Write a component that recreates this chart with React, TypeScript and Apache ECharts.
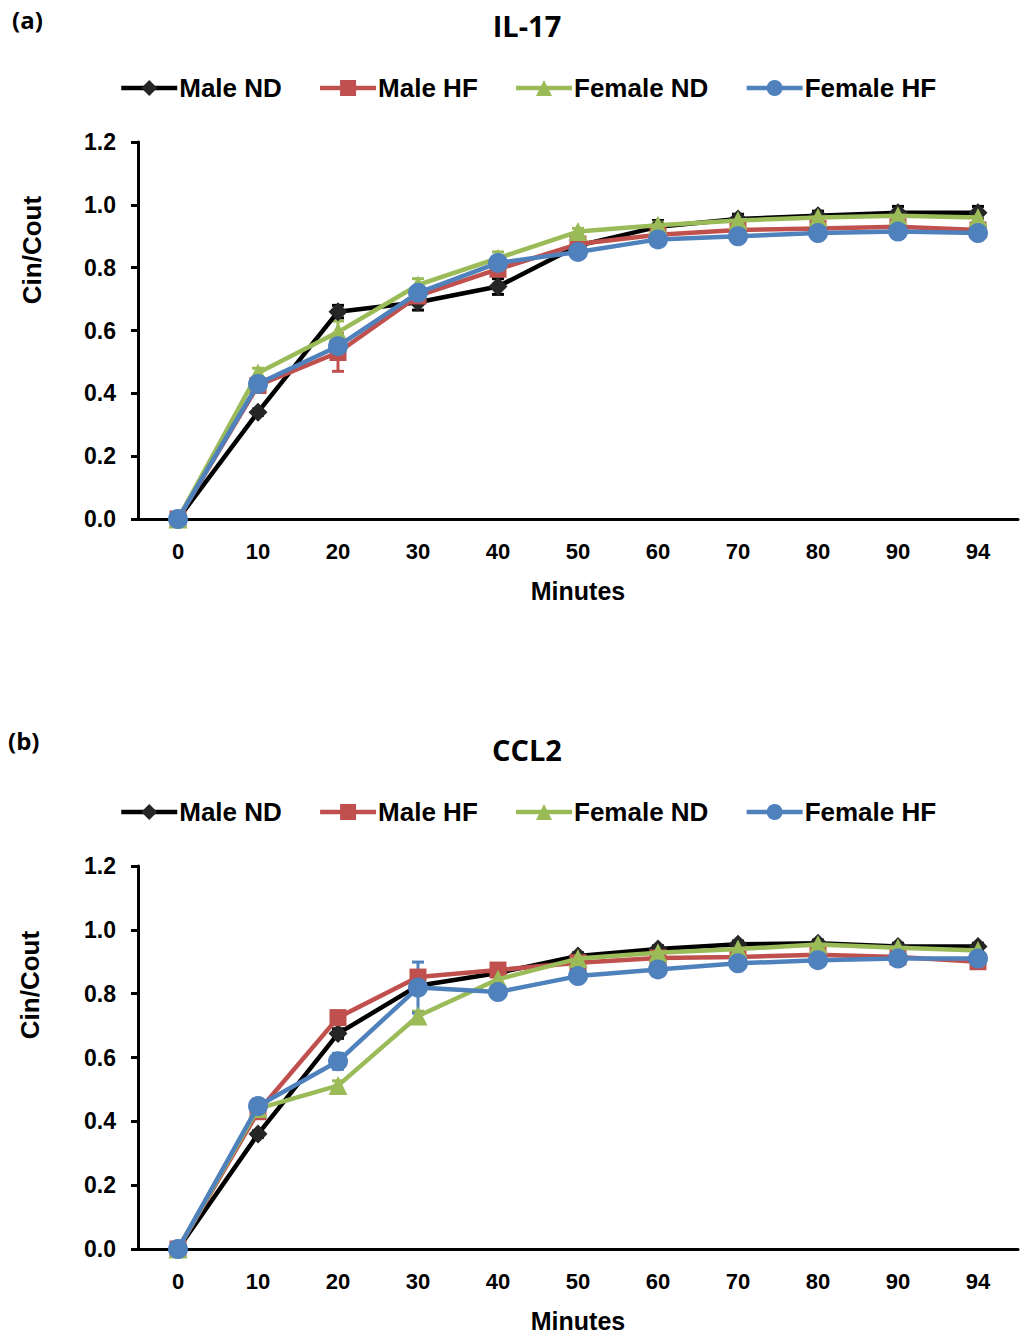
import React, { useEffect, useRef } from "react";
import * as echarts from "echarts";

const categories = ["0", "10", "20", "30", "40", "50", "60", "70", "80", "90", "94"];
const seriesNames = ["Male ND", "Male HF", "Female ND", "Female HF"];
const yTicks = [0, 0.2, 0.4, 0.6, 0.8, 1.0, 1.2];

// IL-17 (a)
const il17MaleND = [0, 0.34, 0.66, 0.69, 0.74, 0.87, 0.93, 0.955, 0.965, 0.975, 0.975];
const il17MaleHF = [0, 0.425, 0.53, 0.71, 0.795, 0.875, 0.905, 0.92, 0.925, 0.93, 0.92];
const il17FemaleND = [0, 0.465, 0.595, 0.745, 0.83, 0.915, 0.935, 0.95, 0.96, 0.965, 0.96];
const il17FemaleHF = [0, 0.43, 0.55, 0.72, 0.815, 0.85, 0.89, 0.9, 0.91, 0.915, 0.91];
const il17MaleNDErr = [0, 0.01, 0.02, 0.025, 0.025, 0.01, 0.02, 0.015, 0.015, 0.02, 0.02];
const il17MaleHFErr = [0, 0.01, 0.06, 0.015, 0.02, 0.01, 0.01, 0.01, 0.01, 0.01, 0.01];
const il17FemaleNDErr = [0, 0.015, 0.035, 0.02, 0.02, 0.01, 0.01, 0.01, 0.01, 0.01, 0.01];
const il17FemaleHFErr = [0, 0.01, 0.015, 0.01, 0.01, 0.01, 0.01, 0.01, 0.01, 0.01, 0.01];

// CCL2 (b)
const ccl2MaleND = [0, 0.36, 0.675, 0.825, 0.865, 0.918, 0.94, 0.955, 0.958, 0.948, 0.948];
const ccl2MaleHF = [0, 0.43, 0.725, 0.852, 0.874, 0.897, 0.912, 0.915, 0.922, 0.915, 0.9];
const ccl2FemaleND = [0, 0.44, 0.512, 0.73, 0.845, 0.91, 0.928, 0.94, 0.954, 0.944, 0.935];
const ccl2FemaleHF = [0, 0.448, 0.588, 0.819, 0.805, 0.855, 0.876, 0.895, 0.905, 0.91, 0.91];
const ccl2MaleNDErr = [0, 0.01, 0.015, 0.015, 0.01, 0.01, 0.01, 0.01, 0.01, 0.01, 0.01];
const ccl2MaleHFErr = [0, 0.01, 0.015, 0.02, 0.01, 0.01, 0.01, 0.01, 0.01, 0.01, 0.01];
const ccl2FemaleNDErr = [0, 0.01, 0.015, 0.015, 0.01, 0.01, 0.01, 0.01, 0.01, 0.01, 0.01];
const ccl2FemaleHFErr = [0, 0.01, 0.025, 0.08, 0.01, 0.01, 0.01, 0.01, 0.01, 0.01, 0.01];

const colors = ["#000000", "#C0504D", "#9BBB59", "#4F81BD"];
const markerFill = ["#262626", "#C0504D", "#9BBB59", "#4F81BD"];
const symbols = ["diamond", "rect", "triangle", "circle"];
const symbolSizes = [19, 17, 19, 20];

const ARIAL = "'Liberation Sans', Arial, sans-serif";
const CALIBRI = "'Open Sans', Lato, sans-serif";

export default function App() {
  const ref = useRef<HTMLDivElement>(null);
  useEffect(() => {
    if (!ref.current) return;
    const chart = echarts.init(ref.current, null, { renderer: "svg" });

    const panels = [
      { values: [il17MaleND, il17MaleHF, il17FemaleND, il17FemaleHF], errs: [il17MaleNDErr, il17MaleHFErr, il17FemaleNDErr, il17FemaleHFErr] },
      { values: [ccl2MaleND, ccl2MaleHF, ccl2FemaleND, ccl2FemaleHF], errs: [ccl2MaleNDErr, ccl2MaleHFErr, ccl2FemaleNDErr, ccl2FemaleHFErr] },
    ];
    const grids = [
      { left: 138, top: 142, width: 880, height: 377 },
      { left: 138, top: 866, width: 880, height: 385 },
    ];

    const xAxes = grids.map((_, i) => ({
      type: "category",
      gridIndex: i,
      data: categories,
      boundaryGap: true,
      axisLine: { lineStyle: { color: "#000", width: 3 } },
      axisTick: { show: false },
      axisLabel: { color: "#000", fontFamily: ARIAL, fontWeight: "bold", fontSize: 22, margin: 21 },
      name: "Minutes",
      nameLocation: "middle",
      nameGap: 59,
      nameTextStyle: { color: "#000", fontFamily: ARIAL, fontWeight: "bold", fontSize: 25 },
      splitLine: { show: false },
    }));
    const yAxes = grids.map((_, i) => ({
      type: "value",
      gridIndex: i,
      min: yTicks[0],
      max: yTicks[yTicks.length - 1],
      interval: 0.2,
      axisLine: { show: true, lineStyle: { color: "#000", width: 3 } },
      axisTick: { show: true, length: 7, lineStyle: { color: "#000", width: 3 } },
      axisLabel: {
        color: "#000",
        fontFamily: ARIAL,
        fontWeight: "bold",
        fontSize: 23,
        margin: 22,
        formatter: (v: number) => v.toFixed(1),
      },
      splitLine: { show: false },
    }));

    const series: any[] = [];
    panels.forEach((p, gi) => {
      p.values.forEach((vals, si) => {
        const errs = p.errs[si];
        series.push({
          type: "custom",
          name: seriesNames[si] + " error",
          xAxisIndex: gi,
          yAxisIndex: gi,
          z: 1,
          silent: true,
          data: vals.map((v, k) => [k, v, errs[k]]),
          renderItem: (params: any, api: any) => {
            const x = api.value(0);
            const v = api.value(1);
            const e = api.value(2);
            const top = api.coord([x, v + e]);
            const bot = api.coord([x, v - e]);
            const style = { stroke: colors[si], lineWidth: 3 };
            return {
              type: "group",
              children: [
                { type: "line", shape: { x1: top[0], y1: top[1], x2: bot[0], y2: bot[1] }, style },
                { type: "line", shape: { x1: top[0] - 6, y1: top[1], x2: top[0] + 6, y2: top[1] }, style },
                { type: "line", shape: { x1: bot[0] - 6, y1: bot[1], x2: bot[0] + 6, y2: bot[1] }, style },
              ],
            };
          },
        });
        series.push({
          type: "line",
          name: seriesNames[si],
          xAxisIndex: gi,
          yAxisIndex: gi,
          z: 2 + si,
          data: vals,
          symbol: symbols[si],
          symbolSize: symbolSizes[si],
          showAllSymbol: true,
          color: colors[si],
          lineStyle: { color: colors[si], width: 4.5 },
          itemStyle: { color: markerFill[si], borderColor: markerFill[si], borderWidth: 0 },
          emphasis: { disabled: true },
        });
      });
    });

    const legendTops = [70, 794];
    const legends = legendTops.map((t) => ({
      top: t,
      left: 114,
      itemWidth: 56,
      itemHeight: 20,
      itemGap: 36,
      data: seriesNames,
      lineStyle: { width: 4.5 },
      textStyle: { color: "#000", fontFamily: ARIAL, fontWeight: "bold", fontSize: 26, padding: [0, 0, 0, -3] },
      selectedMode: false,
    }));

    chart.setOption({
      animation: false,
      backgroundColor: "#fff",
      grid: grids,
      xAxis: xAxes,
      yAxis: yAxes,
      legend: legends,
      series,
      graphic: [
        { type: "text", x: 12, y: 19, style: { text: "(a)", font: `bold 24px ${CALIBRI}`, fill: "#000", textVerticalAlign: "middle" } },
        { type: "text", x: 8, y: 740, style: { text: "(b)", font: `bold 24px ${CALIBRI}`, fill: "#000", textVerticalAlign: "middle" } },
        { type: "text", x: 527, y: 25, style: { text: "IL-17", font: `bold 29px ${CALIBRI}`, fill: "#000", textAlign: "center", textVerticalAlign: "middle" } },
        { type: "text", x: 527, y: 749, style: { text: "CCL2", font: `bold 29px ${CALIBRI}`, fill: "#000", textAlign: "center", textVerticalAlign: "middle" } },
        { type: "text", x: 32, y: 250, rotation: Math.PI / 2, style: { text: "Cin/Cout", font: `bold 26px ${ARIAL}`, fill: "#000", textAlign: "center", textVerticalAlign: "middle" } },
        { type: "text", x: 30, y: 985, rotation: Math.PI / 2, style: { text: "Cin/Cout", font: `bold 26px ${ARIAL}`, fill: "#000", textAlign: "center", textVerticalAlign: "middle" } },
      ],
    });
    return () => chart.dispose();
  }, []);
  return <div ref={ref} style={{ position: "absolute", left: 0, top: 0, width: 1025, height: 1334 }} />;
}
